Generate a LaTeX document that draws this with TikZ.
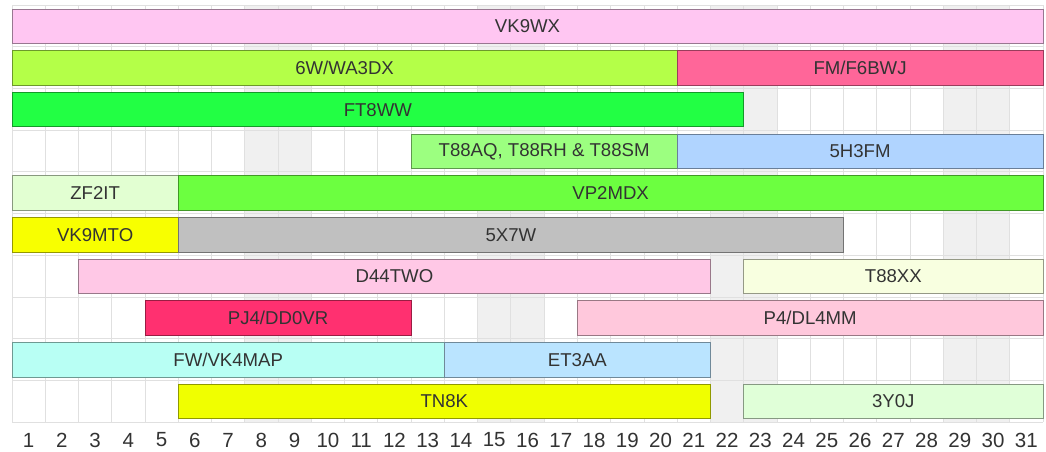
\documentclass[tikz,border=0pt]{standalone}
\usepackage{fontspec}
\setmainfont{Liberation Sans}
\definecolor{cVKWX}{HTML}{FFC6F2}
\definecolor{cSixW}{HTML}{B4FF48}
\definecolor{cFM}{HTML}{FF6699}
\definecolor{cFT}{HTML}{22FF44}
\definecolor{cTAQ}{HTML}{9CFF80}
\definecolor{cFiveH}{HTML}{B0D4FF}
\definecolor{cZF}{HTML}{E2FFD2}
\definecolor{cVP}{HTML}{6CFF40}
\definecolor{cMTO}{HTML}{F8FF00}
\definecolor{cFiveX}{HTML}{C0C0C0}
\definecolor{cDTWO}{HTML}{FFC8E6}
\definecolor{cTXX}{HTML}{F8FFE0}
\definecolor{cPJ}{HTML}{FF3070}
\definecolor{cPF}{HTML}{FFC8DC}
\definecolor{cFW}{HTML}{B8FFF4}
\definecolor{cET}{HTML}{BAE4FF}
\definecolor{cTN}{HTML}{F0FF00}
\definecolor{cTY}{HTML}{E0FFD8}
\def\cw{33.258}
\def\rh{41.7}
\newcommand\evbar[6]{% row, start, end, color, name, text
  \path[evbox, fill=#4, draw=#4!60!black]
    ({12+(#2-1)*\cw},{5+(#1-1)*\rh+4}) rectangle ({12+#3*\cw},{5+(#1-1)*\rh+38.5})
    node[midway, evlabel] (#5) {#6};}
\begin{document}
\begin{tikzpicture}[x=1pt,y=-1pt,
  gridline/.style={draw=black!12, line width=0.8pt},
  wkend/.style={fill=black!6},
  evbox/.style={line width=0.9pt},
  evlabel/.style={font=\fontsize{18.6}{20}\selectfont, text=black!80, inner sep=0pt},
  daylabel/.style={font=\fontsize{20.5}{22}\selectfont, text=black!80, inner sep=0pt}]
\useasboundingbox (0,0) rectangle (1046,451);
\fill[white] (0,0) rectangle (1046,451);
% weekends
\foreach \d in {8,9,15,16,22,23,29,30}
  \fill[wkend] ({12+(\d-1)*\cw},5) rectangle ({12+\d*\cw},422);
% grid
\foreach \k in {0,...,31}
  \draw[gridline] ({12+\k*\cw},5) -- ({12+\k*\cw},422);
\foreach \r in {0,...,10}
  \draw[gridline] (12,{5+\r*\rh}) -- (1043,{5+\r*\rh});
% day labels
\foreach \d in {1,...,31}
  \node[daylabel] (day\d) at ({12+(\d-0.5)*\cw},440) {\d};
% bars
\evbar{1}{1}{31}{cVKWX}{vkwx}{VK9WX}
\evbar{2}{1}{20}{cSixW}{sixw}{6W/WA3DX}
\evbar{2}{21}{31}{cFM}{fm}{FM/F6BWJ}
\evbar{3}{1}{22}{cFT}{ft}{FT8WW}
\evbar{4}{13}{20}{cTAQ}{taq}{T88AQ, T88RH \& T88SM}
\evbar{4}{21}{31}{cFiveH}{fiveh}{5H3FM}
\evbar{5}{1}{5}{cZF}{zf}{ZF2IT}
\evbar{5}{6}{31}{cVP}{vp}{VP2MDX}
\evbar{6}{1}{5}{cMTO}{mto}{VK9MTO}
\evbar{6}{6}{25}{cFiveX}{fivex}{5X7W}
\evbar{7}{3}{21}{cDTWO}{dtwo}{D44TWO}
\evbar{7}{23}{31}{cTXX}{txx}{T88XX}
\evbar{8}{5}{12}{cPJ}{pj}{PJ4/DD0VR}
\evbar{8}{18}{31}{cPF}{pf}{P4/DL4MM}
\evbar{9}{1}{13}{cFW}{fw}{FW/VK4MAP}
\evbar{9}{14}{21}{cET}{et}{ET3AA}
\evbar{10}{6}{21}{cTN}{tn}{TN8K}
\evbar{10}{23}{31}{cTY}{ty}{3Y0J}
\end{tikzpicture}
\end{document}
